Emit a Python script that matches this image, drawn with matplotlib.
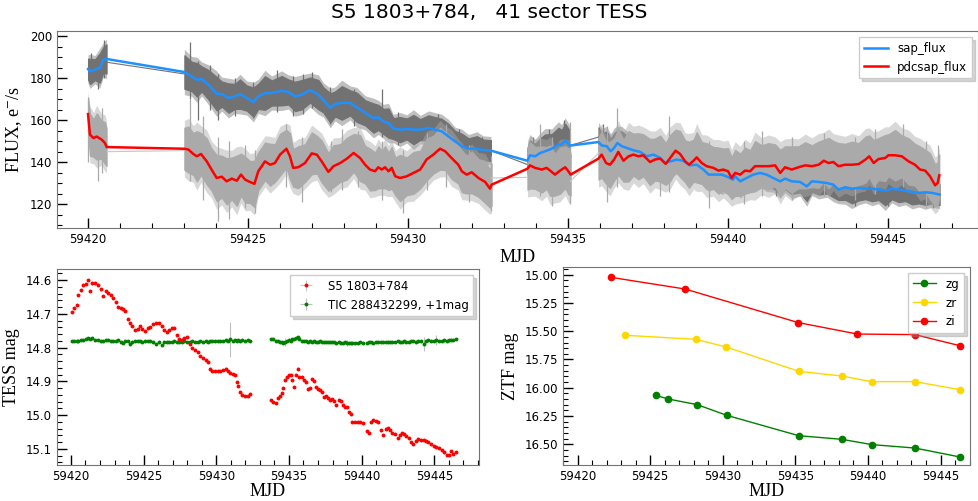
import numpy as np
import matplotlib.pyplot as plt
from matplotlib.ticker import MultipleLocator, AutoMinorLocator, FormatStrFormatter

plt.rcParams['mathtext.fontset'] = 'stix'

# ---------------- TESS sector 41 light curves (smoothed) ----------------
sap_mjd = [59420.00, 59420.06, 59420.22, 59420.37, 59420.48, 59420.58,
           59423.01, 59423.24, 59423.40, 59423.55, 59423.76, 59424.02, 59424.18, 59424.39, 59424.59, 59424.75,
           59424.96, 59425.17, 59425.32, 59425.53, 59425.74, 59426.05, 59426.26, 59426.47, 59426.68, 59426.94,
           59427.20, 59427.35, 59427.57, 59427.72, 59427.93, 59428.19, 59428.40, 59428.66, 59428.92, 59429.07,
           59429.23, 59429.39, 59429.54, 59429.75, 59429.96, 59430.17, 59430.38, 59430.64, 59430.84, 59431.05,
           59431.26, 59431.47, 59431.68, 59431.89, 59432.15, 59432.35, 59432.59,
           59433.73, 59433.81, 59433.97, 59434.13, 59434.28, 59434.49, 59434.70, 59434.80, 59434.91, 59435.06,
           59435.95, 59436.05, 59436.21, 59436.33, 59436.44, 59436.54, 59436.68, 59436.83, 59437.04, 59437.25,
           59437.46, 59437.67, 59437.88, 59438.03, 59438.19, 59438.40, 59438.60, 59438.81, 59439.02, 59439.23,
           59439.39, 59439.59, 59439.80, 59440.02, 59440.15, 59440.22, 59440.38, 59440.58, 59440.79, 59441.00,
           59441.20, 59441.41, 59441.63, 59441.78, 59441.99, 59442.25, 59442.46, 59442.62, 59442.83, 59443.09,
           59443.29, 59443.45, 59443.66, 59443.87, 59444.08, 59444.29, 59444.50, 59444.70, 59444.91, 59445.12,
           59445.33, 59445.54, 59445.75, 59445.96, 59446.17, 59446.38, 59446.61]
sap_flux = [184.3, 183.2, 184.0, 184.8, 188.8, 189.1,
            182.9, 180.8, 179.2, 179.6, 176.9, 172.6, 172.4, 170.5, 171.3, 172.4,
            170.5, 168.6, 171.3, 172.9, 172.9, 174.0, 173.4, 171.3, 172.1, 174.3,
            172.1, 169.7, 165.8, 167.7, 168.2, 168.2, 166.1, 163.5, 161.0, 161.3,
            159.4, 158.6, 156.0, 155.5, 155.8, 155.5, 155.5, 156.3, 155.5, 154.7,
            152.3, 149.9, 147.6, 146.4, 146.4, 145.8, 145.5,
            140.7, 143.3, 142.8, 144.4, 145.2, 146.4, 148.4, 148.4, 150.3, 147.9,
            149.6, 148.0, 147.6, 145.2, 146.8, 149.1, 147.6, 146.8, 145.7, 144.9,
            142.8, 143.6, 142.0, 139.6, 140.4, 141.2, 140.7, 138.5, 138.8, 136.5,
            134.1, 134.1, 134.1, 132.8, 131.7, 133.3, 130.9, 132.5, 134.1, 134.9,
            134.1, 132.5, 130.9, 132.2, 130.9, 130.6, 128.5, 130.9, 130.6, 130.1,
            129.3, 127.0, 128.1, 127.4, 127.8, 127.4, 127.4, 127.0, 126.5, 127.4,
            127.0, 126.5, 125.9, 125.4, 125.7, 125.4, 124.6]
# half-width of the raw sap_flux scatter around the smoothed curve
sap_spread = [5, 6, 5, 7, 6, 7,
              8, 7, 8, 6, 7, 8, 6, 7, 6, 7,
              6, 7, 6, 8, 6, 7, 6, 7, 7, 6,
              7, 6, 7, 6, 8, 6, 7, 6, 7, 6,
              6, 7, 5, 6, 5, 7, 5, 6, 6, 6,
              6, 5, 6, 5, 6, 5, 5,
              6, 7, 6, 7, 8, 7, 8, 7, 8, 7,
              7, 6, 7, 6, 7, 6, 7, 6, 6, 6,
              6, 5, 6, 5, 6, 5, 6, 5, 6, 5,
              6, 5, 7, 5, 6, 5, 6, 5, 6, 5,
              6, 5, 6, 5, 6, 5, 7, 5, 6, 5,
              6, 5, 6, 7, 6, 5, 6, 5, 7, 5,
              6, 5, 6, 5, 6, 5, 5]

pdc_mjd = [59420.00, 59420.06, 59420.17, 59420.27, 59420.43, 59420.53, 59420.58,
           59423.01, 59423.14, 59423.29, 59423.40, 59423.53, 59423.71, 59423.86, 59424.02, 59424.18, 59424.33,
           59424.49, 59424.65, 59424.78, 59424.91, 59425.06, 59425.20, 59425.32, 59425.53, 59425.69, 59425.84,
           59426.00, 59426.20, 59426.31, 59426.41, 59426.57, 59426.78, 59426.99, 59427.15, 59427.30, 59427.51,
           59427.67, 59427.88, 59428.09, 59428.30, 59428.50, 59428.66, 59428.81, 59428.97, 59429.07, 59429.18,
           59429.28, 59429.39, 59429.49, 59429.60, 59429.75, 59429.96, 59430.17, 59430.38, 59430.58, 59430.79,
           59431.00, 59431.16, 59431.36, 59431.57, 59431.68, 59431.83, 59431.99, 59432.20, 59432.41, 59432.56, 59432.61,
           59433.73, 59433.81, 59433.97, 59434.18, 59434.33, 59434.44, 59434.59, 59434.75, 59434.91, 59435.01, 59435.08,
           59435.95, 59436.05, 59436.19, 59436.31, 59436.44, 59436.57, 59436.73, 59436.89, 59437.04, 59437.20,
           59437.35, 59437.56, 59437.72, 59437.88, 59438.05, 59438.19, 59438.36, 59438.50, 59438.66, 59438.78,
           59438.92, 59439.02, 59439.18, 59439.33, 59439.54, 59439.70, 59439.85, 59440.00, 59440.11, 59440.22,
           59440.38, 59440.53, 59440.69, 59440.84, 59441.05, 59441.26, 59441.47, 59441.63, 59441.78, 59441.99,
           59442.20, 59442.41, 59442.62, 59442.83, 59442.99, 59443.14, 59443.29, 59443.45, 59443.66, 59443.87,
           59444.08, 59444.29, 59444.41, 59444.55, 59444.70, 59444.91, 59445.01, 59445.22, 59445.43, 59445.64,
           59445.84, 59446.00, 59446.16, 59446.31, 59446.47, 59446.55, 59446.60]
pdc_flux = [162.9, 153.1, 151.5, 152.2, 150.7, 149.1, 147.2,
            146.4, 146.0, 143.9, 142.8, 143.9, 140.4, 136.5, 132.5, 133.1, 130.9,
            132.2, 131.2, 134.1, 131.7, 130.6, 129.7, 135.7, 140.4, 138.8, 139.6,
            143.6, 146.4, 142.8, 137.3, 137.6, 139.6, 144.2, 143.6, 140.4, 135.4,
            138.1, 139.6, 141.7, 144.4, 142.0, 138.8, 136.5, 135.7, 137.6, 136.5,
            137.6, 135.7, 137.3, 133.3, 132.5, 133.3, 134.9, 136.5, 141.3, 143.6,
            146.4, 145.2, 142.0, 138.8, 135.7, 134.1, 135.2, 132.5, 130.6, 127.4, 129.3,
            136.9, 138.5, 137.3, 136.5, 137.3, 136.0, 134.1, 136.0, 137.6, 135.7, 134.1,
            141.7, 143.6, 139.6, 138.8, 141.3, 144.9, 140.7, 142.8, 143.6, 142.8,
            143.3, 140.1, 141.3, 141.7, 139.2, 142.0, 145.5, 143.9, 140.4, 138.8,
            140.7, 142.3, 139.6, 138.1, 137.3, 136.0, 136.5, 135.7, 132.5, 134.9,
            134.1, 136.0, 135.7, 138.1, 138.1, 138.1, 138.5, 134.9, 137.6, 136.5,
            137.6, 138.5, 138.1, 138.8, 140.7, 139.6, 140.1, 138.1, 138.8, 138.8,
            139.1, 141.2, 142.8, 139.6, 141.5, 142.0, 143.3, 143.3, 142.8, 140.4,
            138.8, 136.5, 136.0, 133.3, 129.0, 130.1, 133.8]
pdc_spread = [8, 10, 9, 11, 9, 10, 9,
              10, 11, 10, 12, 10, 11, 10, 11, 10, 11,
              10, 12, 10, 11, 10, 11, 9, 9, 10, 9,
              10, 9, 11, 9, 10, 9, 10, 9, 10, 9,
              10, 9, 10, 9, 11, 9, 10, 9, 10, 9,
              10, 9, 10, 9, 11, 9, 10, 9, 10, 9,
              10, 9, 10, 9, 10, 9, 10, 9, 10, 9, 10,
              10, 11, 10, 11, 10, 12, 10, 11, 10, 11, 10,
              10, 11, 10, 11, 10, 11, 10, 12, 10, 11,
              10, 11, 10, 11, 10, 11, 10, 11, 10, 11,
              10, 12, 10, 11, 10, 11, 10, 11, 10, 11,
              10, 11, 10, 12, 10, 11, 10, 11, 10, 11,
              10, 11, 10, 11, 10, 12, 10, 11, 10, 11,
              10, 11, 10, 11, 10, 11, 10, 12, 10, 11,
              10, 11, 10, 11, 10, 10, 10]

# isolated outliers of the raw fluxes
sap_spike_mjd = [59420.10, 59420.30, 59420.50, 59423.19, 59423.45, 59423.80, 59424.07, 59424.60, 59425.17, 59425.90,
                 59426.40, 59426.73, 59427.00, 59427.57, 59428.30, 59429.18, 59429.70, 59430.95, 59431.60, 59432.30,
                 59433.90, 59434.40, 59434.86, 59436.10, 59441.50, 59443.97, 59445.00, 59446.40]
sap_spike_lo = [177, 175, 180, 170, 160, 165, 160, 162, 161, 164, 162, 163, 166, 158, 157, 152, 148, 147, 140, 138,
                136, 138, 140, 140, 124, 119, 119, 118]
sap_spike_hi = [192, 191, 198, 197, 188, 186, 182, 180, 178, 184, 181, 182, 183, 176, 175, 175, 164, 163, 156, 152,
                152, 156, 160, 158, 138, 135, 135, 133]
pdc_spike_mjd = [59420.01, 59420.30, 59420.45, 59423.19, 59423.60, 59424.07, 59424.39, 59424.90, 59425.22, 59426.20,
                 59426.68, 59427.60, 59427.93, 59428.45, 59429.20, 59429.85, 59430.60, 59431.20, 59431.90, 59432.60,
                 59434.13, 59434.50, 59435.06, 59436.21, 59436.54, 59437.88, 59438.14, 59439.39, 59440.50, 59441.05,
                 59442.00, 59442.99, 59443.97, 59444.60, 59445.47, 59446.17, 59446.56]
pdc_spike_lo = [140, 131, 135, 131, 122, 112, 113, 118, 116, 128, 121, 126, 127, 128, 122, 116, 127, 128, 121, 117,
                124, 119, 120, 121, 128, 124, 126, 118, 120, 124, 122, 124, 122, 125, 128, 118, 120]
pdc_spike_hi = [170, 163, 166, 170, 162, 152, 150, 148, 146, 158, 152, 150, 156, 155, 150, 146, 154, 158, 148, 143,
                158, 152, 159, 157, 166, 152, 162, 150, 150, 155, 152, 154, 152, 156, 158, 150, 148]

# raw curves joined across the orbit gaps (pairs of end points)
sap_link_mjd = [59420.60, 59423.00, 59432.60, 59433.74, 59435.07, 59435.96]
sap_link_flux = [187.5, 182.0, 145.5, 138.8, 148.0, 152.0]
pdc_link_mjd = [59420.60, 59423.00, 59432.60, 59433.74, 59435.07, 59435.96]
pdc_link_flux = [145.0, 145.5, 132.5, 132.8, 130.9, 144.4]

# ---------------- TESS magnitudes ----------------
tess_mjd = [59420.05, 59420.23, 59420.39, 59420.50, 59420.69, 59420.85, 59421.01, 59421.15, 59421.31, 59421.47,
            59421.65, 59421.84, 59422.06, 59422.23, 59422.39, 59422.57, 59422.75, 59422.91, 59423.07, 59423.26,
            59423.42, 59423.56, 59423.72, 59423.90, 59424.06, 59424.22, 59424.40, 59424.59, 59424.75, 59424.91,
            59425.09, 59425.28, 59425.46, 59425.67, 59425.85, 59426.06, 59426.24, 59426.40, 59426.58, 59426.77,
            59426.93, 59427.09, 59427.27, 59427.43, 59427.62, 59427.80, 59428.01, 59428.19, 59428.35, 59428.53,
            59428.72, 59428.90, 59429.08, 59429.27, 59429.41, 59429.57, 59429.73, 59429.91, 59430.09, 59430.28,
            59430.46, 59430.64, 59430.78, 59430.97, 59431.13, 59431.29, 59431.40, 59431.52, 59431.63, 59431.79,
            59431.98, 59432.16, 59432.32,
            59433.76, 59433.92, 59434.09, 59434.22, 59434.38, 59434.50, 59434.61, 59434.73, 59434.87, 59435.00,
            59435.14, 59435.23, 59435.37, 59435.46, 59435.60, 59435.71, 59435.87, 59436.06, 59436.20, 59436.33,
            59436.47, 59436.61, 59436.75, 59436.89, 59437.02, 59437.16, 59437.30, 59437.43, 59437.57, 59437.71,
            59437.84, 59437.98, 59438.12, 59438.26, 59438.44, 59438.58, 59438.72, 59438.86, 59439.00, 59439.13,
            59439.27, 59439.37, 59439.55, 59439.74, 59439.92, 59440.10, 59440.35, 59440.51, 59440.65, 59440.81,
            59440.97, 59441.15, 59441.34, 59441.50, 59441.66, 59441.80, 59441.96, 59442.12, 59442.30, 59442.49,
            59442.62, 59442.76, 59442.94, 59443.08, 59443.26, 59443.40, 59443.56, 59443.72, 59443.91, 59444.09,
            59444.27, 59444.46, 59444.60, 59444.78, 59444.96, 59445.15, 59445.33, 59445.51, 59445.70, 59445.88,
            59446.02, 59446.15, 59446.31, 59446.47]
s5_mag = [14.694, 14.684, 14.674, 14.644, 14.630, 14.615, 14.612, 14.600, 14.633, 14.610,
          14.610, 14.613, 14.627, 14.646, 14.633, 14.637, 14.644, 14.652, 14.664, 14.679,
          14.684, 14.686, 14.692, 14.714, 14.728, 14.735, 14.748, 14.745, 14.735, 14.745,
          14.751, 14.743, 14.738, 14.731, 14.726, 14.728, 14.735, 14.748, 14.753, 14.748,
          14.741, 14.743, 14.763, 14.775, 14.778, 14.773, 14.768, 14.788, 14.800, 14.808,
          14.814, 14.824, 14.832, 14.837, 14.844, 14.862, 14.870, 14.870, 14.870, 14.870,
          14.867, 14.862, 14.870, 14.874, 14.877, 14.880, 14.901, 14.913, 14.931, 14.941,
          14.943, 14.944, 14.939,
          14.956, 14.961, 14.963, 14.949, 14.943, 14.936, 14.919, 14.896, 14.887, 14.882,
          14.882, 14.896, 14.916, 14.882, 14.862, 14.887, 14.887, 14.896, 14.901, 14.923,
          14.921, 14.892, 14.899, 14.916, 14.923, 14.926, 14.933, 14.946, 14.943, 14.949,
          14.956, 14.951, 14.959, 14.969, 14.956, 14.959, 14.969, 14.976, 14.976, 14.990,
          14.998, 15.020, 15.020, 15.020, 15.020, 15.025, 15.048, 15.052, 15.022, 15.015,
          15.018, 15.020, 15.045, 15.058, 15.040, 15.038, 15.045, 15.052, 15.055, 15.067,
          15.058, 15.052, 15.055, 15.062, 15.067, 15.081, 15.087, 15.077, 15.071, 15.074,
          15.074, 15.077, 15.081, 15.087, 15.091, 15.094, 15.097, 15.104, 15.111, 15.117,
          15.119, 15.107, 15.114, 15.111]
tic_mag = [14.780, 14.781, 14.779, 14.780, 14.778, 14.777, 14.776, 14.773, 14.774, 14.773,
           14.778, 14.777, 14.779, 14.780, 14.778, 14.777, 14.779, 14.781, 14.780, 14.778,
           14.782, 14.785, 14.781, 14.780, 14.790, 14.782, 14.781, 14.780, 14.781, 14.782,
           14.780, 14.779, 14.781, 14.783, 14.788, 14.782, 14.793, 14.783, 14.784, 14.783,
           14.782, 14.781, 14.783, 14.782, 14.782, 14.781, 14.783, 14.782, 14.781, 14.782,
           14.782, 14.780, 14.782, 14.781, 14.782, 14.780, 14.779, 14.781, 14.779, 14.780,
           14.779, 14.778, 14.779, 14.775, 14.779, 14.778, 14.779, 14.778, 14.779, 14.778,
           14.779, 14.778, 14.779,
           14.775, 14.776, 14.779, 14.781, 14.782, 14.784, 14.785, 14.783, 14.780, 14.777,
           14.781, 14.776, 14.774, 14.772, 14.768, 14.775, 14.779, 14.780, 14.781, 14.782,
           14.780, 14.782, 14.781, 14.783, 14.782, 14.781, 14.783, 14.782, 14.784, 14.783,
           14.782, 14.784, 14.783, 14.785, 14.784, 14.786, 14.785, 14.784, 14.786, 14.787,
           14.786, 14.785, 14.787, 14.786, 14.784, 14.786, 14.785, 14.784, 14.783, 14.785,
           14.784, 14.783, 14.782, 14.784, 14.783, 14.782, 14.784, 14.783, 14.782, 14.781,
           14.783, 14.782, 14.781, 14.783, 14.782, 14.781, 14.780, 14.782, 14.781, 14.779,
           14.790, 14.781, 14.778, 14.780, 14.779, 14.777, 14.779, 14.780, 14.778, 14.779,
           14.777, 14.778, 14.777, 14.776]
s5_err = 0.003
tic_err = 0.002
# comparison star points with large errors
tic_wide_mjd = [59430.97, 59434.73, 59437.02, 59439.00, 59444.27, 59445.15]
tic_wide_err = [0.052, 0.012, 0.005, 0.008, 0.020, 0.014]

# ---------------- ZTF ----------------
zg_mjd = [59425.39, 59426.22, 59428.23, 59430.28, 59435.23, 59438.19, 59440.28, 59443.23, 59446.33]
zg_mag = [16.067, 16.099, 16.149, 16.244, 16.424, 16.456, 16.503, 16.533, 16.612]
zr_mjd = [59423.28, 59428.17, 59430.25, 59435.25, 59438.19, 59440.25, 59443.23, 59446.33]
zr_mag = [15.536, 15.572, 15.640, 15.855, 15.896, 15.946, 15.946, 16.017]
zi_mjd = [59422.32, 59427.41, 59435.21, 59439.27, 59443.23, 59446.33]
zi_mag = [15.024, 15.127, 15.424, 15.525, 15.530, 15.628]

serif = {'family': 'Liberation Serif', 'size': 13}
leg_kw = dict(loc='upper right', fontsize=8.5, fancybox=False, edgecolor='0.8',
              shadow={'color': '0.55', 'alpha': 0.35})


def style_axes(ax):
    ax.minorticks_on()
    ax.tick_params(which='both', direction='in', top=False, right=False, labelsize=8.5)
    ax.tick_params(which='major', length=7, width=1)
    ax.tick_params(which='minor', length=3.5, width=0.8)
    for sp in ax.spines.values():
        sp.set_color('0.45')


def draw_band(ax, x, y, w, color, z):
    # scatter of the raw points: a soft outer halo plus the dense core
    x = np.asarray(x)
    y = np.asarray(y, dtype=float)
    w = np.asarray(w, dtype=float)
    cuts = np.where(np.diff(x) > 0.5)[0] + 1
    for xs, ys, ws in zip(np.split(x, cuts), np.split(y, cuts), np.split(w, cuts)):
        ax.fill_between(xs, ys - 1.35 * ws, ys + 1.35 * ws, color=color, lw=0, alpha=0.45, zorder=z)
        ax.fill_between(xs, ys - ws, ys + ws, color=color, lw=0.8, zorder=z)


fig = plt.figure(figsize=(9.79, 5.01), dpi=100)
fig.text(0.5, 0.975, 'S5 1803+784,   41 sector TESS', ha='center', va='center', fontsize=14.5)

# top panel: flux
ax1 = fig.add_axes([0.0582, 0.5449, 0.9408, 0.3932])
sap_gray = '#727272'
pdc_gray = '#aaaaaa'
draw_band(ax1, sap_mjd, sap_flux, sap_spread, sap_gray, 1)
ax1.vlines(sap_spike_mjd, sap_spike_lo, sap_spike_hi, color=sap_gray, lw=0.9, zorder=1)
for i in range(0, len(sap_link_mjd), 2):
    ax1.plot(sap_link_mjd[i:i + 2], sap_link_flux[i:i + 2], color=sap_gray, lw=0.8, zorder=1)
draw_band(ax1, pdc_mjd, pdc_flux, pdc_spread, pdc_gray, 2)
ax1.vlines(pdc_spike_mjd, pdc_spike_lo, pdc_spike_hi, color=pdc_gray, lw=0.9, zorder=2)
for i in range(0, len(pdc_link_mjd), 2):
    ax1.plot(pdc_link_mjd[i:i + 2], pdc_link_flux[i:i + 2], color='#c8c8c8', lw=0.8, zorder=2)
ax1.plot(sap_mjd, sap_flux, color='dodgerblue', lw=1.8, label='sap_flux', zorder=3)
ax1.plot(pdc_mjd, pdc_flux, color='red', lw=1.8, label='pdcsap_flux', zorder=4)
ax1.set_xlim(59419.03, 59447.81)
ax1.set_ylim(108.7, 202.4)
ax1.xaxis.set_major_locator(MultipleLocator(5))
ax1.xaxis.set_minor_locator(MultipleLocator(1))
ax1.yaxis.set_major_locator(MultipleLocator(20))
ax1.yaxis.set_minor_locator(MultipleLocator(5))
style_axes(ax1)
ax1.set_xlabel('MJD', fontdict=serif, labelpad=2)
ax1.set_ylabel(r'FLUX, e$^{-}$/s', fontdict=serif)
ax1.legend(**leg_kw)

# bottom left: TESS magnitudes
ax2 = fig.add_axes([0.0582, 0.0719, 0.4311, 0.3912])
tic_yerr = np.full(len(tess_mjd), tic_err)
for m, e in zip(tic_wide_mjd, tic_wide_err):
    tic_yerr[np.argmin(np.abs(np.asarray(tess_mjd) - m))] = e
ax2.errorbar(tess_mjd, s5_mag, yerr=s5_err, xerr=0.04, fmt='o', ms=2.8, mew=0, color='red',
             ecolor='#c8c8c8', elinewidth=0.8, capsize=1.5, label='S5 1803+784', zorder=3)
ax2.errorbar(tess_mjd, tic_mag, yerr=tic_yerr, xerr=0.04, fmt='o', ms=2.8, mew=0, color='green',
             ecolor='#c0c0c0', elinewidth=0.8, capsize=2, label='TIC 288432299, +1mag', zorder=2)
ax2.set_xlim(59419.04, 59448.08)
ax2.set_ylim(15.148, 14.567)
ax2.xaxis.set_major_locator(MultipleLocator(5))
ax2.xaxis.set_minor_locator(MultipleLocator(1))
ax2.yaxis.set_major_locator(MultipleLocator(0.1))
ax2.yaxis.set_minor_locator(AutoMinorLocator(5))
style_axes(ax2)
ax2.set_xlabel('MJD', fontdict=serif, labelpad=0)
ax2.set_ylabel('TESS mag', fontdict=serif)
ax2.legend(**leg_kw)

# bottom right: ZTF
ax3 = fig.add_axes([0.5751, 0.0719, 0.4157, 0.3952])
ax3.plot(zg_mjd, zg_mag, 'o-', color='green', ms=4.5, lw=1, label='zg')
ax3.plot(zr_mjd, zr_mag, 'o-', color='gold', ms=4.5, lw=1, label='zr')
ax3.plot(zi_mjd, zi_mag, 'o-', color='red', ms=4.5, lw=1, label='zi')
ax3.set_xlim(59419.0, 59447.03)
ax3.set_ylim(16.683, 14.932)
ax3.xaxis.set_major_locator(MultipleLocator(5))
ax3.xaxis.set_minor_locator(MultipleLocator(1))
ax3.yaxis.set_major_locator(MultipleLocator(0.25))
ax3.yaxis.set_minor_locator(AutoMinorLocator(5))
ax3.yaxis.set_major_formatter(FormatStrFormatter('%.2f'))
style_axes(ax3)
ax3.set_xlabel('MJD', fontdict=serif, labelpad=0)
ax3.set_ylabel('ZTF mag', fontdict=serif)
ax3.legend(**leg_kw)

fig.savefig('out.png', dpi=100)
